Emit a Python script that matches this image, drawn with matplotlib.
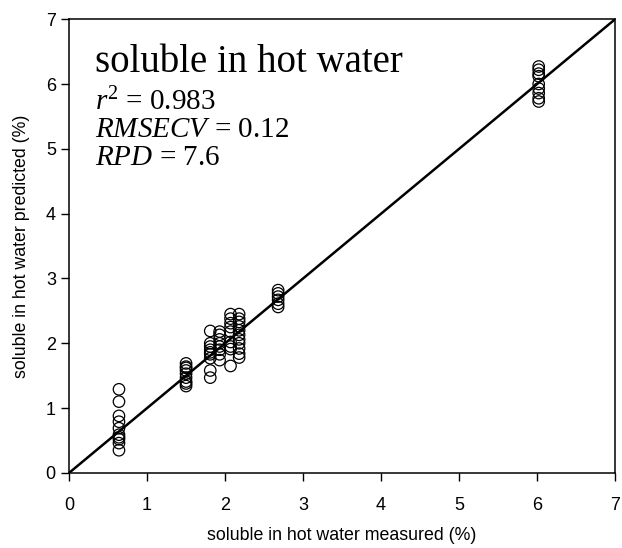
import matplotlib
matplotlib.use("Agg")
import matplotlib.pyplot as plt

group_x = [0.64, 1.50, 1.81, 1.93, 2.07, 2.18, 2.68, 6.02]
group_pred = [
    [1.29, 1.10, 0.88, 0.79, 0.69, 0.59, 0.55, 0.52, 0.46, 0.35],
    [1.69, 1.64, 1.62, 1.58, 1.53, 1.47, 1.41, 1.38, 1.34],
    [2.19, 2.00, 1.95, 1.90, 1.86, 1.83, 1.77, 1.58, 1.47],
    [2.18, 2.13, 2.06, 2.00, 1.95, 1.90, 1.83, 1.74],
    [2.45, 2.38, 2.31, 2.25, 2.18, 2.02, 1.95, 1.91, 1.65],
    [2.45, 2.38, 2.33, 2.26, 2.20, 2.13, 2.06, 2.00, 1.92, 1.84, 1.78],
    [2.82, 2.77, 2.72, 2.67, 2.61, 2.56],
    [6.27, 6.22, 6.16, 6.12, 6.00, 5.93, 5.86, 5.78, 5.73],
]
ticks = [0, 1, 2, 3, 4, 5, 6, 7]

measured = []
predicted = []
for gx, ys in zip(group_x, group_pred):
    measured += [gx] * len(ys)
    predicted += ys

plt.rcParams["mathtext.fontset"] = "custom"
plt.rcParams["mathtext.rm"] = "Liberation Serif"
plt.rcParams["mathtext.it"] = "Liberation Serif:italic"

fig = plt.figure(figsize=(6.22, 5.48), dpi=100)
ax = fig.add_axes([0.111, 0.137, 0.878, 0.828])

ax.plot([0, 7], [0, 7], color="black", lw=1.8, zorder=2)
ax.scatter(measured, predicted, s=68, facecolors="none", edgecolors="black",
           linewidths=0.9, zorder=3)

ax.set_xlim(0, 7)
ax.set_ylim(0, 7)
ax.set_xticks(ticks)
ax.set_yticks(ticks)
ax.tick_params(direction="out", length=6, width=1, labelsize=13)
ax.tick_params(axis="x", pad=11)
for lab in ax.get_xticklabels() + ax.get_yticklabels():
    lab.set_family("Liberation Sans")
for sp in ax.spines.values():
    sp.set_linewidth(1.1)

ax.set_xlabel("soluble in hot water measured (%)", fontsize=12.8,
              family="Liberation Sans", labelpad=10)
ax.set_ylabel("soluble in hot water predicted (%)", fontsize=12.8,
              family="Liberation Sans", labelpad=11)

serif = "Liberation Serif"
tx = 0.048
ax.text(tx, 0.883, "soluble in hot water", transform=ax.transAxes,
        fontsize=28, family=serif, va="baseline")
ax.text(tx, 0.80, r"$r^2$ = 0.983", transform=ax.transAxes,
        fontsize=21, family=serif, va="baseline")
ax.text(tx, 0.74, r"$RMSECV$ = 0.12", transform=ax.transAxes,
        fontsize=21, family=serif, va="baseline")
ax.text(tx, 0.678, r"$RPD$ = 7.6", transform=ax.transAxes,
        fontsize=21, family=serif, va="baseline")

plt.savefig("out.png", dpi=100)
